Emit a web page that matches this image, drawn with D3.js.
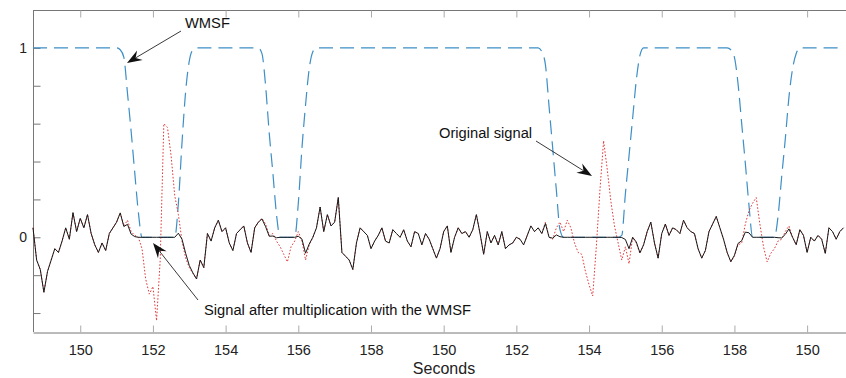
<!DOCTYPE html>
<html><head><meta charset="utf-8">
<script src="https://cdn.jsdelivr.net/npm/d3@7"></script>
<style>
body{margin:0;background:#fff}
svg{display:block;font-family:"Liberation Sans",Arial,Helvetica,sans-serif}
</style>
</head><body>
<svg id="chart" width="846" height="378"></svg>
<script>
// ---- data ----
const startTime = 148.7;     // seconds of the first sample
const sampleStep = 0.1;      // seconds between samples

const originalSignal = [
  0.05,-0.12,-0.17,-0.29,-0.18,-0.12,-0.06,-0.08,-0.02,0.05,
  -0.01,0.13,0.03,0.10,0.05,0.12,0.02,-0.04,-0.08,-0.03,
  -0.07,0.02,0.05,0.08,0.13,0.06,0.09,0.03,0.01,0.00,
  -0.06,-0.22,-0.30,-0.26,-0.44,-0.12,0.60,0.58,0.43,0.22,
  0.12,-0.02,-0.11,-0.16,-0.19,-0.22,-0.12,-0.16,0.02,-0.02,
  0.05,0.09,0.03,0.05,-0.03,-0.07,0.02,0.04,0.06,-0.03,
  -0.08,0.05,0.08,0.10,0.07,0.01,0.02,-0.02,-0.05,-0.09,
  -0.13,-0.05,-0.02,0.03,-0.02,-0.12,-0.04,0.00,0.05,0.16,
  0.03,0.12,0.06,0.08,0.21,-0.08,-0.10,-0.12,-0.17,-0.03,
  0.05,0.03,0.01,-0.06,-0.02,0.01,0.05,-0.02,-0.03,0.04,
  0.02,0.00,0.04,-0.02,-0.05,0.03,0.02,-0.04,0.02,-0.01,
  -0.06,-0.11,-0.06,0.03,0.06,-0.08,0.00,0.05,0.02,0.03,
  0.00,0.04,0.12,0.02,-0.09,0.03,-0.03,0.01,-0.04,0.03,
  -0.06,-0.04,-0.03,0.00,-0.01,-0.04,0.01,0.06,0.03,0.05,
  0.02,0.08,0.00,-0.01,0.05,0.08,0.03,0.09,0.05,-0.03,
  -0.08,-0.09,-0.18,-0.25,-0.31,-0.05,0.25,0.51,0.36,0.19,
  0.06,-0.03,-0.12,-0.05,-0.14,0.00,-0.03,-0.085,-0.04,0.03,
  0.08,-0.03,-0.11,0.02,0.07,0.01,0.05,0.04,0.02,0.09,
  0.05,0.03,0.02,-0.06,-0.11,-0.07,0.03,0.07,0.11,0.05,
  -0.01,-0.08,-0.13,-0.10,-0.04,-0.03,0.07,0.14,0.18,0.21,
  0.07,-0.05,-0.13,-0.085,-0.06,-0.02,-0.01,0.03,0.06,0.00,
  -0.04,0.04,0.01,-0.08,0.00,-0.02,0.01,-0.01,-0.085,0.05,
  0.03,-0.01,0.03,0.05
];

const wmsf = [
  1,1,1,1,1,1,1,1,1,1,
  1,1,1,1,1,1,1,1,1,1,
  1,1,1,1,0.99,0.95,0.76,0.56,0.34,0.13,
  0,0,0,0,0,0,0,0,0,0,
  0.18,0.50,0.77,0.93,0.99,1,1,1,1,1,
  1,1,1,1,1,1,1,1,1,1,
  1,1,1,0.97,0.80,0.55,0.34,0.12,0,0,
  0,0,0,0.18,0.47,0.70,0.89,0.98,1,1,
  1,1,1,1,1,1,1,1,1,1,
  1,1,1,1,1,1,1,1,1,1,
  1,1,1,1,1,1,1,1,1,1,
  1,1,1,1,1,1,1,1,1,1,
  1,1,1,1,1,1,1,1,1,1,
  1,1,1,1,1,1,1,1,1,1,
  0.98,0.91,0.69,0.47,0.25,0.04,0,0,0,0,
  0,0,0,0,0,0,0,0,0,0,
  0,0,0.01,0.23,0.43,0.63,0.83,0.96,1,1,
  1,1,1,1,1,1,1,1,1,1,
  1,1,1,1,1,1,1,1,1,1,
  1,1,0.99,0.95,0.81,0.60,0.39,0.17,0,0,
  0,0,0,0,0,0.11,0.32,0.52,0.74,0.89,
  0.97,1,1,1,1,1,1,1,1,1,
  1,1,1,1
];

const xTickValues = [150,152,154,156,158,160,162,164,166,168,170];
const xTickLabels = ["150","152","154","156","158","150","152","154","156","158","150"];
const yTickValues = [-0.4,-0.2,0,0.2,0.4,0.6,0.8,1];
const yTickLabels = ["","","0","","","","","1"];
const xAxisTitle = "Seconds";
const labelWMSF = "WMSF";
const labelOriginal = "Original signal";
const labelFiltered = "Signal after multiplication with the WMSF";

// series after multiplication with the window
const times = originalSignal.map((_, i) => startTime + i * sampleStep);
const filteredSignal = originalSignal.map((v, i) => v * wmsf[i]);

// ---- layout ----
const svg = d3.select("#chart");
const pL = 33, pR = 846, pT = 10, pB = 332;
const x = d3.scaleLinear().domain([148.7, 171.07]).range([pL, pR]);
const y = d3.scaleLinear().domain([-0.5, 1.2]).range([pB, pT]);

// frame line on top
svg.append("line").attr("x1", pL).attr("x2", pR).attr("y1", pT + 0.5).attr("y2", pT + 0.5)
  .attr("stroke", "#777").attr("stroke-width", 1);

// bottom axis
const xAxis = svg.append("g").attr("transform", `translate(0,${pB + 0.5})`)
  .call(d3.axisBottom(x).tickValues(xTickValues).tickFormat((d, i) => xTickLabels[i])
    .tickSizeInner(-7).tickSizeOuter(0).tickPadding(12));
xAxis.select(".domain").attr("stroke", "#777");
xAxis.selectAll(".tick line").attr("stroke", "#aaa");
xAxis.selectAll(".tick text").attr("font-size", "14.5px").attr("fill", "#222")
  .attr("font-family", '"Liberation Sans",Arial,sans-serif');

// top ticks
const xTop = svg.append("g").attr("transform", `translate(0,${pT + 0.5})`)
  .call(d3.axisTop(x).tickValues(xTickValues).tickFormat("").tickSizeInner(-7).tickSizeOuter(0));
xTop.select(".domain").remove();
xTop.selectAll(".tick line").attr("stroke", "#aaa");

// left axis
const yAxis = svg.append("g").attr("transform", `translate(${pL + 0.5},0)`)
  .call(d3.axisLeft(y).tickValues(yTickValues).tickFormat((d, i) => yTickLabels[i])
    .tickSizeInner(-7).tickSizeOuter(0).tickPadding(6.5));
yAxis.select(".domain").attr("stroke", "#777").attr("d", `M0,${pT}V${pB}`);
yAxis.selectAll(".tick line").attr("stroke", "#777");
yAxis.selectAll(".tick text").attr("font-size", "14px").attr("fill", "#222")
  .attr("font-family", '"Liberation Sans",Arial,sans-serif');

// axis title
svg.append("text").attr("x", 444).attr("y", 373.5).attr("text-anchor", "middle")
  .attr("font-size", "16px").attr("fill", "#222").text(xAxisTitle);

// ---- series ----
const plot = svg.append("g");
const lineW = d3.line().x((d, i) => x(times[i])).y(d => y(d)).curve(d3.curveMonotoneX);
const lineS = d3.line().x((d, i) => x(times[i])).y(d => y(d));

plot.append("path").datum(wmsf).attr("d", lineW)
  .attr("fill", "none").attr("stroke", "#3d8fc6").attr("stroke-width", 1.2)
  .attr("stroke-dasharray", "14,7");

plot.append("path").datum(originalSignal).attr("d", lineS)
  .attr("fill", "none").attr("stroke", "#e03a3a").attr("stroke-width", 1)
  .attr("stroke-dasharray", "1.6,1.8");

plot.append("path").datum(filteredSignal).attr("d", lineS)
  .attr("fill", "none").attr("stroke", "#1a1a1a").attr("stroke-width", 1)
  .attr("stroke-linejoin", "round");

// ---- annotations ----
function arrow(x1, y1, x2, y2) {
  const g = svg.append("g");
  const ang = Math.atan2(y2 - y1, x2 - x1);
  const L = 15, hw = 5.5, notch = 10;
  const ux = Math.cos(ang), uy = Math.sin(ang), px = -uy, py = ux;
  const bx = x2 - ux * L, by = y2 - uy * L;
  const nx = x2 - ux * notch, ny = y2 - uy * notch;
  g.append("line").attr("x1", x1).attr("y1", y1).attr("x2", nx).attr("y2", ny)
    .attr("stroke", "#222").attr("stroke-width", 0.9);
  g.append("path")
    .attr("d", `M${x2},${y2}L${bx + px * hw},${by + py * hw}L${nx},${ny}L${bx - px * hw},${by - py * hw}Z`)
    .attr("fill", "#111");
}

const ann = svg.append("g").attr("font-size", "14.7px").attr("fill", "#111");
ann.append("text").attr("x", 185).attr("y", 28).text(labelWMSF);
arrow(181, 31, 127, 63);

ann.append("text").attr("x", 439).attr("y", 138).text(labelOriginal);
arrow(536, 141, 592, 176);

ann.append("text").attr("x", 204).attr("y", 315).text(labelFiltered);
arrow(198, 300, 153, 243);
</script>
</body></html>
